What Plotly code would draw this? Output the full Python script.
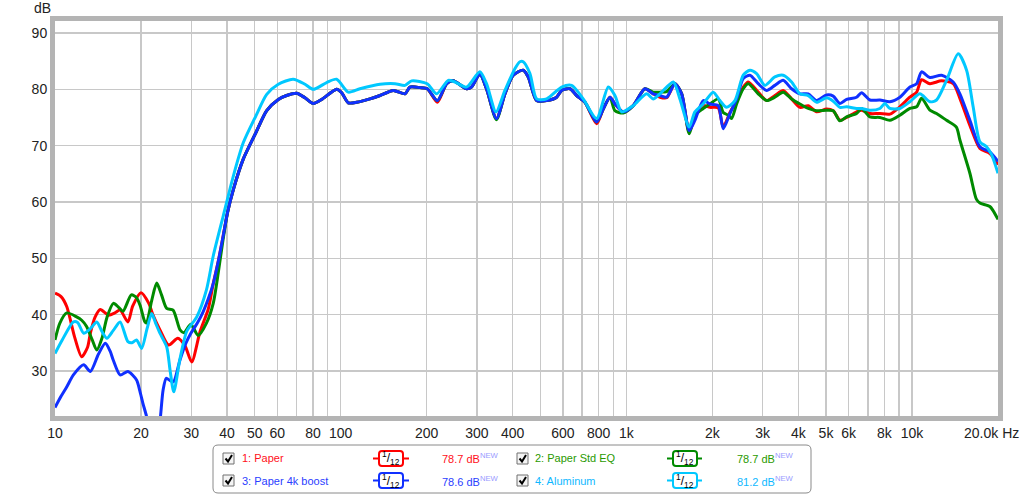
import plotly.graph_objects as go

# ---------------- data (frequency in Hz, level in dB) ----------------
paper_f = [10, 10.5, 11.0, 11.7, 12.4, 13.0, 13.3, 13.8, 14.4, 15.4, 16.2, 16.9, 18.0, 18.7, 20.0, 21.3,
           22.0, 23.3, 25.0, 26.9, 28.5, 30.1, 32.2, 34.4, 35.8, 37.3, 38.8,
           40.2, 42.1, 45.6, 50.5, 55.1, 60.5, 64.7, 70.1, 75, 80.2, 85.8, 96.8, 100.8, 106.3, 113.8,
           126.6, 137.3, 152.8, 168, 174.8, 189.5, 201, 218, 235, 247.8, 276, 287, 307, 324, 351,
           375.8, 401.8, 435.6, 453.6, 485.3, 526, 570, 593.6, 634.8, 670, 716.3, 787, 830, 876.5,
           912, 975, 1057, 1161, 1242, 1311, 1384, 1479, 1562, 1660, 1738, 1858, 1962, 2097, 2183,
           2305, 2432, 2566, 2672, 2895, 3097, 3311, 3540, 3789, 4052, 4331, 4634, 5023, 5300, 5593,
           5902, 6397, 6662, 7122, 7719, 8367, 9071, 9831, 10380, 10801, 11550, 12693, 13935, 14710,
           15945, 17285, 18736, 20000]
paper_db = [43.8, 43.2, 41.4, 36.1, 32.5, 34.2, 36.7, 39.5, 40.9, 39.9, 40.3, 40.8, 38.7, 41.5, 43.9, 42.0,
            40.0, 37.3, 34.6, 35.8, 34.5, 31.6, 37.0, 41.0, 45.5, 49.5, 54.0,
            58.2, 62.2, 67.6, 72.3, 76.2, 78.2, 78.9, 79.3, 78.5, 77.5, 78.2, 80.0, 79.4, 77.6, 77.7,
            78.3, 78.9, 79.8, 79.2, 80.4, 80.3, 80.1, 77.7, 81.0, 81.5, 80.1, 80.4, 82.7, 80.1, 74.8,
            79.2, 82.5, 83.4, 82.2, 78.0, 78.0, 78.6, 79.8, 80.1, 78.9, 77.7, 73.9, 76.5, 78.6,
            77.4, 76.0, 77.1, 80.1, 79.2, 78.6, 78.5, 81.0, 79.2, 72.4, 75.1, 77.1, 76.8, 76.7, 73.3,
            75.9, 78.0, 80.4, 81.3, 79.5, 78.0, 78.9, 79.8, 78.3, 76.8, 77.1, 76.0, 76.5, 76.2, 74.5,
            75.0, 76.0, 76.3, 75.7, 75.7, 75.6, 76.9, 78.6, 79.5, 81.7, 81.0, 81.5, 81.0, 78.4,
            73.6, 69.5, 68.6, 66.6]

stdeq_f = [10, 10.4, 11.0, 11.9, 12.4, 12.9, 13.5, 14.0, 14.6, 15.2, 16.0, 16.7, 17.3, 18.5, 19.3, 19.9,
           20.6, 20.9, 21.8, 22.7, 23.6, 24.6, 25.9, 27.4, 28.3, 29.9, 31.7, 33.9, 35.8, 37.3, 38.8,
           40.2, 42.1, 45.6, 50.5, 55.1, 60.5, 64.7, 70.1, 75, 80.2, 85.8, 96.8, 100.8, 106.3, 113.8,
           126.6, 137.3, 152.8, 168, 174.8, 189.5, 201, 218, 235, 247.8, 276, 287, 307, 324, 351,
           375.8, 401.8, 435.6, 453.6, 485.3, 526, 570, 593.6, 634.8, 670, 716.3, 787, 830, 876.5,
           912, 975, 1057, 1161, 1242, 1311, 1384, 1479, 1562, 1660, 1738, 1858, 1962, 2097, 2183,
           2273, 2336, 2432, 2566, 2672, 2895, 3097, 3311, 3540, 3789, 4052, 4331, 4634, 5023, 5300,
           5593, 5902, 6397, 6662, 7122, 7719, 8367, 9071, 9831, 10380, 10801, 11550, 12190, 13212,
           14300, 14710, 15945, 16800, 17285, 18736, 20000]
stdeq_db = [35.5, 38.5, 40.3, 39.6, 39.0, 37.9, 35.5, 33.7, 35.8, 39.5, 42.0, 41.3, 40.6, 43.5, 43.0, 41.5,
            38.8, 38.5, 42.5, 45.6, 43.5, 41.1, 40.8, 37.3, 36.8, 38.3, 36.3, 38.5, 42.0, 47.5, 53.5,
            58.2, 62.2, 67.6, 72.3, 76.2, 78.2, 78.9, 79.3, 78.5, 77.5, 78.2, 80.0, 79.4, 77.6, 77.7,
            78.3, 78.9, 79.8, 79.2, 80.4, 80.3, 80.1, 78.0, 81.0, 81.5, 80.1, 80.4, 82.7, 80.1, 74.6,
            79.2, 82.5, 83.4, 82.2, 78.0, 78.0, 78.6, 79.8, 80.1, 78.9, 77.7, 74.2, 76.5, 78.6,
            76.2, 75.8, 77.1, 80.1, 79.5, 79.5, 79.6, 81.0, 79.2, 72.1, 75.4, 76.6, 77.4, 78.3, 75.9,
            75.4, 74.8, 77.4, 80.1, 81.0, 79.2, 78.0, 78.6, 79.5, 78.3, 77.4, 76.6, 76.2, 76.3, 76.2,
            74.4, 75.1, 75.7, 76.6, 75.1, 75.0, 74.5, 75.4, 76.6, 76.9, 78.4, 76.3, 75.7, 74.5,
            73.3, 71.0, 65.1, 60.5, 59.8, 59.2, 56.9]

boost_f = [10, 10.5, 11.0, 11.6, 12.6, 13.3, 14.2, 15.0, 15.6, 16.0, 16.9, 18.0, 19.3, 19.8, 20.3, 20.9,
           21.8, 22.7, 23.3, 23.9, 24.5, 25.3, 26.0, 27.4, 28.7, 29.9, 31.5, 33.0, 34.4, 35.8, 37.3, 38.8,
           40.2, 42.1, 45.6, 50.5, 55.1, 60.5, 64.7, 70.1, 75, 80.2, 85.8, 96.8, 100.8, 106.3, 113.8,
           126.6, 137.3, 152.8, 168, 174.8, 189.5, 201, 218, 235, 247.8, 276, 287, 307, 324, 351,
           375.8, 401.8, 435.6, 453.6, 485.3, 526, 570, 593.6, 634.8, 670, 716.3, 787, 830, 876.5,
           912, 975, 1057, 1161, 1242, 1311, 1384, 1479, 1562, 1660, 1738, 1858, 1962, 2097, 2183,
           2305, 2432, 2566, 2707, 2895, 3097, 3311, 3540, 3789, 4052, 4331, 4634, 5023, 5300, 5593,
           5902, 6397, 6662, 7122, 7719, 8367, 9071, 9831, 10380, 10801, 11550, 12693, 13935, 14710,
           15945, 17285, 18736, 20000]
boost_db = [23.5, 25.5, 27.2, 29.3, 31.1, 29.9, 33.0, 34.9, 33.5, 31.9, 29.3, 29.9, 28.4, 26.5, 24.3, 22.0,
            18.0, 17.5, 21.0, 26.6, 28.7, 28.3, 28.1, 32.0, 34.9, 36.7, 38.5, 40.5, 42.8, 45.5, 49.5, 54.0,
            58.2, 62.2, 67.6, 72.3, 76.2, 78.2, 78.9, 79.3, 78.5, 77.5, 78.2, 80.0, 79.4, 77.6, 77.7,
            78.3, 78.9, 79.8, 79.2, 80.4, 80.3, 80.1, 78.0, 81.0, 81.5, 80.1, 80.4, 82.7, 80.1, 74.8,
            79.2, 82.5, 83.4, 82.2, 78.0, 78.0, 78.6, 79.8, 80.1, 78.9, 77.7, 74.2, 76.5, 78.6,
            77.4, 76.0, 77.1, 80.1, 79.2, 78.9, 78.6, 81.0, 79.2, 72.7, 74.5, 78.0, 77.4, 77.1, 73.0,
            75.7, 78.3, 81.9, 82.5, 81.0, 79.8, 80.7, 81.6, 80.1, 79.2, 79.2, 78.0, 79.0, 78.8, 77.5,
            78.2, 78.6, 79.4, 78.1, 78.1, 77.8, 78.6, 80.4, 81.0, 83.1, 82.1, 82.5, 81.3, 79.2,
            74.5, 69.8, 68.9, 67.2]

alu_f = [10, 10.6, 11.6, 12.0, 12.6, 13.3, 14.0, 14.6, 15.2, 16.0, 16.9, 18.0, 18.6, 19.3, 20.1, 21.0,
         21.8, 22.5, 23.3, 24.6, 25.3, 26.05, 27.35, 28.9, 31.35, 33.9, 35.8, 38.8,
         42.1, 45.6, 50.5, 55.1, 60.5, 68.2, 75, 80.2, 89.3, 96.8, 106.3, 116.8, 137.3, 154.9, 168,
         177.3, 201, 216.8, 238, 251, 276, 307, 324, 349.7, 375.8, 407.6, 424.3, 435.6, 459.8,
         485.3, 526, 593.6, 643.5, 706.3, 787, 864.6, 912, 962.7, 1057, 1177, 1242, 1311, 1460,
         1540, 1660, 1738, 1858, 2014, 2126, 2244, 2399, 2566, 2707, 2858, 3055, 3311, 3540, 3789,
         4052, 4331, 4634, 5023, 5300, 5593, 5902, 6397, 6662, 7122, 7719, 8036, 8367, 9071, 9831,
         10656, 11550, 12190, 13212, 14512, 15524, 16370, 17285, 18240, 18990, 20000]
alu_db = [33.1, 35.5, 38.7, 38.6, 36.7, 37.5, 38.7, 37.0, 35.8, 37.2, 38.7, 35.2, 35.0, 35.5, 34.0, 37.5,
          40.2, 38.5, 36.7, 34.3, 30.0, 26.3, 32.0, 37.0, 39.6, 44.4, 50.4, 57.5,
          64.6, 70.5, 75.3, 79.1, 80.9, 81.8, 80.9, 80.0, 81.2, 81.8, 79.5, 80.1, 80.9, 81.0, 80.7,
          81.5, 81.0, 79.2, 81.6, 81.3, 80.4, 83.1, 81.0, 76.0, 79.8, 83.7, 84.9, 84.9, 82.8,
          78.3, 78.3, 80.4, 80.7, 78.3, 74.8, 80.4, 78.9, 76.0, 77.1, 79.2, 78.3, 79.2, 81.3,
          78.3, 73.3, 76.0, 77.4, 79.5, 78.0, 76.8, 78.0, 82.5, 83.4, 82.8, 80.7, 82.2, 82.5, 81.3,
          79.2, 78.9, 77.7, 78.5, 77.9, 76.8, 76.9, 76.6, 76.6, 76.3, 76.6, 77.5, 76.6, 76.6, 77.8,
          79.2, 77.8, 78.1, 81.6, 86.3, 83.4, 76.9, 70.7, 69.8, 68.4, 65.1]

series_names = ["1: Paper", "2: Paper Std EQ", "3: Paper 4k boost", "4: Aluminum"]
series_levels = ["78.7 dB", "78.7 dB", "78.6 dB", "81.2 dB"]

x_grid = [10, 20, 30, 40, 50, 60, 70, 80, 90, 100, 200, 300, 400, 500, 600, 700, 800, 900,
          1000, 2000, 3000, 4000, 5000, 6000, 7000, 8000, 9000, 10000, 20000]
x_labels = ["10", "20", "30", "40", "50", "60", "", "80", "", "100", "200", "300", "400", "", "600", "",
            "800", "", "1k", "2k", "3k", "4k", "5k", "6k", "", "8k", "", "10k", ""]
y_ticks = [30, 40, 50, 60, 70, 80, 90]

# ---------------- styling ----------------
colors = ["#ff0000", "#008a00", "#1030ff", "#00c8ff"]
text_colors = ["#ff1020", "#2a9a00", "#2a40ff", "#10b8ff"]
FONT = "Liberation Sans, Arial, sans-serif"

L, R, T, B = 55, 998, 21, 416
W, H = 1024, 495


def PX(x):
    return (x - L) / (R - L)


def PY(y):
    return (B - y) / (B - T)


def rounded(x0, y0, x1, y1, r):
    pts = [
        f"M {PX(x0 + r)},{PY(y0)}",
        f"L {PX(x1 - r)},{PY(y0)}", f"Q {PX(x1)},{PY(y0)} {PX(x1)},{PY(y0 + r)}",
        f"L {PX(x1)},{PY(y1 - r)}", f"Q {PX(x1)},{PY(y1)} {PX(x1 - r)},{PY(y1)}",
        f"L {PX(x0 + r)},{PY(y1)}", f"Q {PX(x0)},{PY(y1)} {PX(x0)},{PY(y1 - r)}",
        f"L {PX(x0)},{PY(y0 + r)}", f"Q {PX(x0)},{PY(y0)} {PX(x0 + r)},{PY(y0)} Z",
    ]
    return " ".join(pts)


fig = go.Figure()
series = [(paper_f, paper_db), (stdeq_f, stdeq_db), (boost_f, boost_db), (alu_f, alu_db)]
for i, (f, db) in enumerate(series):
    assert len(f) == len(db), (i, len(f), len(db))
    fig.add_trace(go.Scatter(x=f, y=db, mode="lines", name=series_names[i],
                             line=dict(color=colors[i], width=3, shape="spline", smoothing=0.7),
                             showlegend=False, hoverinfo="skip"))

shapes = []
annotations = []

# legend panel
shapes.append(dict(type="path", xref="paper", yref="paper", path=rounded(213, 445, 811, 493, 5),
                   line=dict(color="#8a8a8a", width=1), fillcolor="white", layer="above"))
rows = [458.5, 480.5]
cols = [dict(cb=223, name=240, icon=(373, 409, 379, 403), val=440),
        dict(cb=517, name=533, icon=(667, 702, 673, 697), val=735)]
positions = [(0, 0), (0, 1), (1, 0), (1, 1)]
for i, (r, c) in enumerate(positions):
    y = rows[r]
    cc = cols[c]
    shapes.append(dict(type="rect", xref="paper", yref="paper",
                       x0=PX(cc["cb"]), x1=PX(cc["cb"] + 11), y0=PY(y - 5.5), y1=PY(y + 5.5),
                       line=dict(color="#707070", width=1), fillcolor="#f4f4f4"))
    shapes.append(dict(type="path", xref="paper", yref="paper",
                       path=f"M {PX(cc['cb'] + 2.5)},{PY(y)} L {PX(cc['cb'] + 5)},{PY(y + 3)} "
                            f"L {PX(cc['cb'] + 9)},{PY(y - 3.5)}",
                       line=dict(color="black", width=2)))
    annotations.append(dict(x=PX(cc["name"]), y=PY(y), xref="paper", yref="paper",
                            text=series_names[i], showarrow=False, xanchor="left", yanchor="middle",
                            font=dict(family=FONT, size=11, color=text_colors[i])))
    lx0, lx1, bx0, bx1 = cc["icon"]
    shapes.append(dict(type="line", xref="paper", yref="paper", x0=PX(lx0), x1=PX(lx1),
                       y0=PY(y), y1=PY(y), line=dict(color=colors[i], width=2)))
    shapes.append(dict(type="path", xref="paper", yref="paper",
                       path=rounded(bx0, y - 7.5, bx1, y + 7.5, 3),
                       line=dict(color=colors[i], width=2), fillcolor="white"))
    annotations.append(dict(x=PX((bx0 + bx1) / 2), y=PY(y), xref="paper", yref="paper",
                            text="<sup>1</sup>/<sub>12</sub>", showarrow=False,
                            xanchor="center", yanchor="middle",
                            font=dict(family=FONT, size=12, color="black")))
    annotations.append(dict(x=PX(cc["val"]), y=PY(y), xref="paper", yref="paper",
                            text=series_levels[i] + "<sup><span style='color:#9a9aff'>NEW</span></sup>",
                            showarrow=False, xanchor="left", yanchor="middle",
                            font=dict(family=FONT, size=11, color=text_colors[i])))

# axis unit labels
annotations.append(dict(x=PX(53), y=PY(8), xref="paper", yref="paper", text="dB", showarrow=False,
                        xanchor="right", yanchor="middle", font=dict(family=FONT, size=14, color="#222")))
annotations.append(dict(x=PX(1021), y=PY(433), xref="paper", yref="paper", text="20.0k Hz",
                        showarrow=False, xanchor="right", yanchor="middle",
                        font=dict(family=FONT, size=14, color="#222")))

fig.update_layout(
    width=W, height=H,
    margin=dict(l=L, r=W - R, t=T, b=H - B),
    paper_bgcolor="white", plot_bgcolor="white",
    font=dict(family=FONT, size=14, color="#222"),
    shapes=shapes, annotations=annotations,
    xaxis=dict(type="log", range=[1, 4.30103], tickvals=x_grid, ticktext=x_labels,
               showgrid=True, gridcolor="#c8c8c8", gridwidth=1.5, zeroline=False,
               showline=True, linecolor="#b4b4b4", linewidth=5, mirror=True, ticks="",
               tickfont=dict(family=FONT, size=14, color="#222"), fixedrange=True),
    yaxis=dict(range=[22, 92.13], tickvals=y_ticks, showgrid=True, gridcolor="#c8c8c8", gridwidth=1.5,
               zeroline=False, showline=True, linecolor="#b4b4b4", linewidth=5, mirror=True, ticks="",
               tickfont=dict(family=FONT, size=14, color="#222"), fixedrange=True),
)

fig.write_html("out.html", config={"displayModeBar": False, "staticPlot": True})

# remove the browser's default page margin so the figure sits at the window's top-left corner
with open("out.html", "r", encoding="utf-8") as fh:
    html = fh.read()
html = html.replace("<head>", "<head><style>html,body{margin:0;padding:0;overflow:hidden;}</style>", 1)
with open("out.html", "w", encoding="utf-8") as fh:
    fh.write(html)
